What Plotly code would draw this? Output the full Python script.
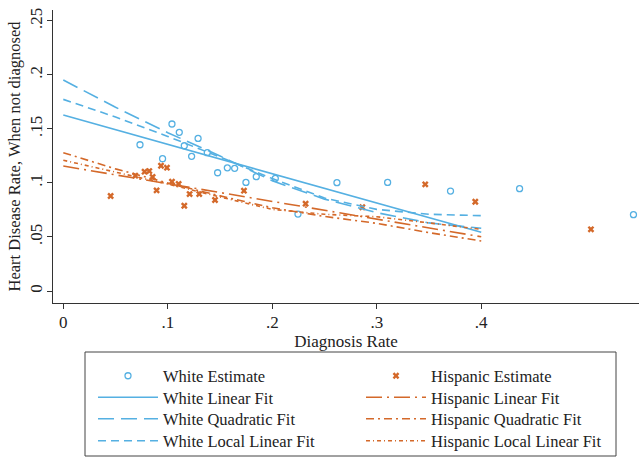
import plotly.graph_objects as go

# ---- data ----
white_x = [0.0734, 0.095, 0.104, 0.111, 0.1158, 0.1228, 0.129, 0.1378, 0.1477, 0.157,
           0.164, 0.1748, 0.1847, 0.2029, 0.2246, 0.2619, 0.3104, 0.3706, 0.4367, 0.5457]
white_y = [0.1353, 0.1224, 0.1545, 0.1468, 0.1344, 0.1246, 0.1412, 0.128, 0.1094, 0.114,
           0.1135, 0.1005, 0.1058, 0.1042, 0.0712, 0.1002, 0.1005, 0.0925, 0.0947, 0.0706]

hisp_x = [0.0453, 0.0689, 0.0778, 0.0823, 0.0855, 0.0893, 0.0935, 0.0992, 0.104, 0.1104,
          0.1158, 0.1209, 0.1301, 0.1452, 0.1729, 0.2319, 0.2862, 0.3464, 0.3943, 0.505]
hisp_y = [0.0879, 0.1067, 0.1104, 0.111, 0.1055, 0.0931, 0.1159, 0.1141, 0.1011, 0.099,
          0.0789, 0.0897, 0.0897, 0.0842, 0.0928, 0.0808, 0.0775, 0.0987, 0.0826, 0.0571]

fit_x = [0, 0.05, 0.1, 0.15, 0.2, 0.25, 0.3, 0.35, 0.4]
white_linear = [0.1628, 0.1493, 0.1357, 0.1221, 0.1086, 0.0950, 0.0814, 0.0679, 0.0543]
white_quad = [0.1952, 0.170, 0.1465, 0.125, 0.102, 0.085, 0.0725, 0.063, 0.058]
white_local = [0.1773, 0.161, 0.143, 0.124, 0.104, 0.086, 0.0755, 0.071, 0.0697]
hisp_linear = [0.1156, 0.1074, 0.0992, 0.0911, 0.0829, 0.0747, 0.0666, 0.0584, 0.0502]
hisp_quad = [0.128, 0.113, 0.100, 0.088, 0.077, 0.069, 0.0626, 0.054, 0.0463]
hisp_local = [0.121, 0.110, 0.099, 0.087, 0.0755, 0.071, 0.0687, 0.063, 0.057]

x_ticks = [0, 0.1, 0.2, 0.3, 0.4]
x_ticktext = ["0", ".1", ".2", ".3", ".4"]
y_ticks = [0, 0.05, 0.1, 0.15, 0.2, 0.25]
y_ticktext = ["0", ".05", ".1", ".15", ".2", ".25"]

BLUE = "#55b0e2"
ORANGE = "#d4692a"
FONT = "Liberation Serif"

W, H = 639, 459
ML, MR, MT, MB = 53, 0, 10, 156
PW, PH = W - ML - MR, H - MT - MB


def px_to_paper_x(px):
    return (px - ML) / PW


def px_to_paper_y(py):
    return (H - MB - py) / PH


ROW_Y = [376, 397.5, 419, 441]
COL_X = [93, 361]

fig = go.Figure()
fig.add_trace(go.Scatter(x=white_x, y=white_y, mode="markers", name="White Estimate",
                         marker=dict(symbol="circle-open", size=6, color=BLUE, line=dict(width=1.3, color=BLUE)),
                         legend="legend"))
fig.add_trace(go.Scatter(x=hisp_x, y=hisp_y, mode="markers", name="Hispanic Estimate",
                         marker=dict(symbol="x", size=6, color=ORANGE, line=dict(width=0)),
                         legend="legend5"))
fig.add_trace(go.Scatter(x=fit_x, y=white_linear, mode="lines", name="White Linear Fit",
                         line=dict(color=BLUE, width=1.6, dash="solid"), legend="legend2"))
fig.add_trace(go.Scatter(x=fit_x, y=hisp_linear, mode="lines", name="Hispanic Linear Fit",
                         line=dict(color=ORANGE, width=1.6, dash="16px,5px,2px,5px"), legend="legend6"))
fig.add_trace(go.Scatter(x=fit_x, y=white_quad, mode="lines", name="White Quadratic Fit",
                         line=dict(color=BLUE, width=1.6, dash="16px,7px"), legend="legend3"))
fig.add_trace(go.Scatter(x=fit_x, y=hisp_quad, mode="lines", name="Hispanic Quadratic Fit",
                         line=dict(color=ORANGE, width=1.6, dash="8px,4px,2px,4px"), legend="legend7"))
fig.add_trace(go.Scatter(x=fit_x, y=white_local, mode="lines", name="White Local Linear Fit",
                         line=dict(color=BLUE, width=1.6, dash="8px,5px"), legend="legend4"))
fig.add_trace(go.Scatter(x=fit_x, y=hisp_local, mode="lines", name="Hispanic Local Linear Fit",
                         line=dict(color=ORANGE, width=1.6, dash="4px,3px,1px,3px"), legend="legend8"))

legend_common = dict(
    orientation="v", xanchor="left", yanchor="middle", itemwidth=60,
    bgcolor="rgba(0,0,0,0)", borderwidth=0,
    font=dict(family=FONT, size=16.5, color="#222"),
)
legends = {}
for i in range(8):
    col, row = divmod(i, 4)
    key = "legend" if i == 0 else f"legend{i + 1}"
    legends[key] = dict(x=px_to_paper_x(COL_X[col]), y=px_to_paper_y(ROW_Y[row]), **legend_common)

fig.update_layout(
    width=W, height=H,
    margin=dict(l=ML, r=MR, t=MT, b=MB, autoexpand=False),
    paper_bgcolor="white", plot_bgcolor="white",
    font=dict(family=FONT, size=17, color="#222"),
    showlegend=True,
    shapes=[dict(type="rect", xref="paper", yref="paper",
                 x0=px_to_paper_x(85), x1=px_to_paper_x(616),
                 y0=px_to_paper_y(352), y1=px_to_paper_y(456),
                 line=dict(color="#444", width=1), fillcolor="rgba(0,0,0,0)", layer="above")],
    **legends,
)
fig.update_xaxes(
    range=[-0.00986, 0.551], tickvals=x_ticks, ticktext=x_ticktext,
    showline=True, linecolor="#333", linewidth=1, showgrid=False, zeroline=False,
    ticks="outside", ticklen=5, tickcolor="#333", ticklabelstandoff=-1,
    tickfont=dict(family=FONT, size=17),
    title=dict(text="Diagnosis Rate", standoff=0, font=dict(family=FONT, size=17)),
)
fig.update_yaxes(
    range=[-0.0111, 0.26], tickvals=y_ticks, ticktext=y_ticktext, tickangle=-90,
    showline=True, linecolor="#333", linewidth=1, showgrid=False, zeroline=False,
    ticks="outside", ticklen=5, tickcolor="#333", ticklabelstandoff=-2,
    tickfont=dict(family=FONT, size=17),
    title=dict(text="Heart Disease Rate, When not diagnosed", standoff=2, font=dict(family=FONT, size=16.5)),
)

fig.write_html("out.html", config={"displayModeBar": False},
               post_script="document.body.style.margin='0';")
